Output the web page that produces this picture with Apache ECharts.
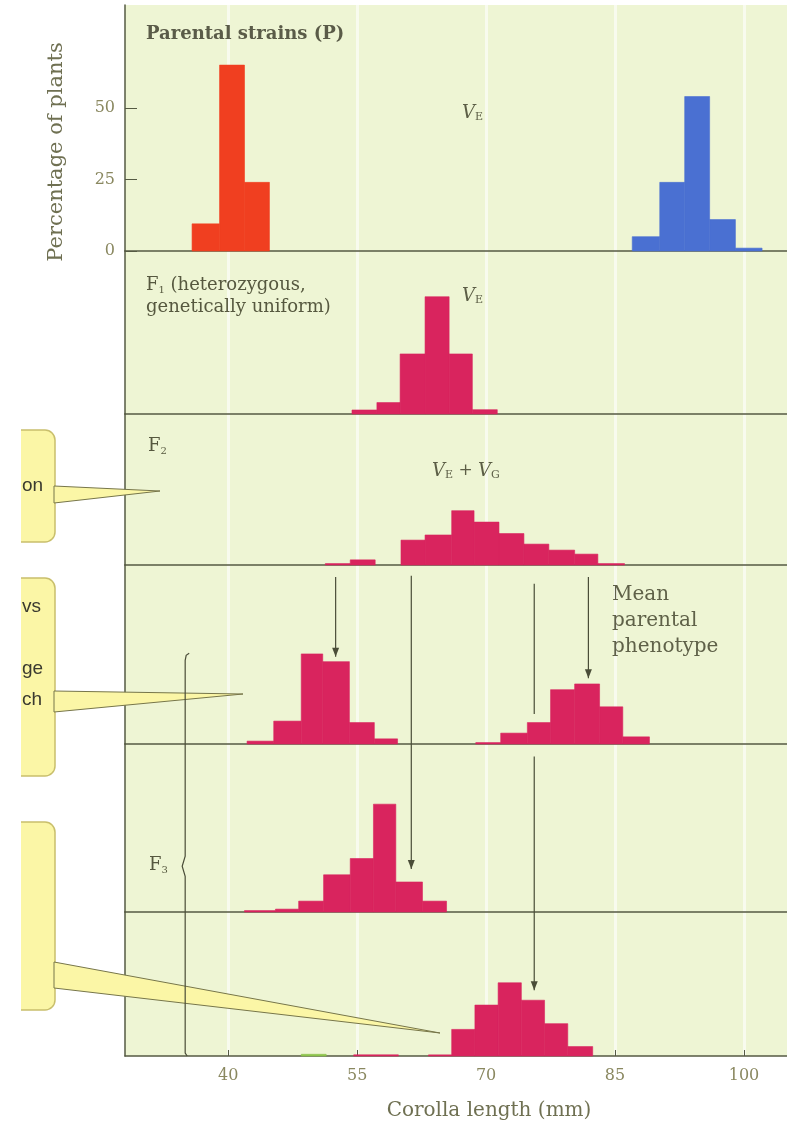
<!DOCTYPE html>
<html><head><meta charset="utf-8">
<script src="https://cdn.jsdelivr.net/npm/echarts@6/dist/echarts.min.js"></script>
<style>html,body{margin:0;padding:0;background:#fff}#c{width:787px;height:1133px}</style>
</head><body><div id="c"></div>
<script>
// ---- data (corolla length bins in mm, percentage of plants) ----
const xTicks = [40, 55, 70, 85, 100];
const yTicks = [0, 25, 50];
const parentRedEdges = [35.8, 39.0, 41.9, 44.8];
const parentRedPct = [9.5, 65, 24];
const parentBlueEdges = [87.0, 90.2, 93.1, 96.0, 99.0, 102.1];
const parentBluePct = [5, 24, 54, 11, 1];
const f1Edges = [54.4, 57.3, 60.0, 62.9, 65.7, 68.4, 71.3];
const f1Pct = [1.4, 4, 21, 41, 21, 1.5];
const f2Edges = [51.3, 54.2, 57.1, 60.1, 62.9, 66.0, 68.6, 71.5, 74.4, 77.3, 80.3, 83.0, 86.1];
const f2Pct = [0.5, 1.8, 0, 8.7, 10.5, 19, 15, 11, 7.3, 5.2, 3.8, 0.5];
const selShortEdges = [42.2, 45.3, 48.5, 51.0, 54.1, 57.0, 59.7];
const selShortPct = [1, 8, 31.5, 28.8, 7.5, 1.8];
const selLongEdges = [68.8, 71.7, 74.8, 77.5, 80.3, 83.2, 85.9, 89.0];
const selLongPct = [0.5, 3.8, 7.5, 19, 21, 13, 2.5];
const f3ShortEdges = [41.9, 45.5, 48.2, 51.1, 54.2, 56.9, 59.5, 62.6, 65.4];
const f3ShortPct = [0.5, 1, 3.8, 13, 18.7, 37.7, 10.5, 3.8];
const f3LongEdges = [54.6, 59.8, 63.3, 66.0, 68.7, 71.4, 74.1, 76.8, 79.5, 82.4];
const f3LongPct = [0.4, 0, 0.4, 9.3, 17.8, 25.6, 19.5, 11.3, 3.3];
const f3GreenEdges = [48.5, 51.4];
const f3GreenPct = [0.6];

// ---- layout ----
const X_MIN = 28, X_MAX = 105;
const PX_PER_PCT = 2.86;
const panels = [
  {top: 5, h: 246}, {top: 251, h: 163}, {top: 414, h: 151},
  {top: 565, h: 179}, {top: 744, h: 168}, {top: 912, h: 144}
];
const AX = '#555a43';
const SERIF = 'DejaVu Serif';
const TXT = '#56583f';
const LBL = '#8a8860';

const chart = echarts.init(document.getElementById('c'));

function bins(edges, pct) {
  return pct.map((p, i) => [edges[i], edges[i + 1], p]);
}
function renderBar(params, api) {
  const h = api.value(2);
  if (!h) return null;
  const a = api.coord([api.value(0), h]);
  const b = api.coord([api.value(1), 0]);
  const c = api.visual('color');
  return {type: 'rect', shape: {x: a[0], y: a[1], width: b[0] - a[0], height: b[1] - a[1]},
          style: {fill: c, stroke: c, lineWidth: 0.6}};
}
function histSeries(name, g, edges, pct, color) {
  return {name, type: 'custom', xAxisIndex: g, yAxisIndex: g, renderItem: renderBar,
          encode: {x: [0, 1], y: 2}, itemStyle: {color}, data: bins(edges, pct), silent: true, z: 3};
}

const RED = '#f03f20', BLUE = '#4a70d2', CRIM = '#d9245e', GREEN = '#8cc24a';

const option = {
  animation: false,
  backgroundColor: '#ffffff',
  grid: panels.map(p => ({left: 125, width: 665, top: p.top, height: p.h, show: true,
                          backgroundColor: '#eef5d4', borderWidth: 0, containLabel: false})),
  xAxis: panels.map((p, i) => ({
    type: 'value', gridIndex: i, min: X_MIN, max: X_MAX,
    axisLine: {show: true, onZero: false, lineStyle: {color: AX, width: 1.5}},
    axisTick: {show: i === 5, inside: true, length: 6, customValues: xTicks, lineStyle: {color: AX}},
    axisLabel: {show: i === 5, customValues: xTicks, margin: 12, color: LBL,
                fontFamily: SERIF, fontSize: 16},
    splitLine: {show: true, lineStyle: {color: 'rgba(255,255,255,0.6)', width: 3}}
  })),
  yAxis: panels.map((p, i) => ({
    type: 'value', gridIndex: i, min: 0, max: p.h / PX_PER_PCT,
    axisLine: {show: true, lineStyle: {color: AX, width: 1.5}},
    axisTick: {show: i === 0, inside: true, length: 12, customValues: yTicks, lineStyle: {color: AX}},
    axisLabel: {show: i === 0, customValues: yTicks, margin: 10, color: LBL,
                fontFamily: SERIF, fontSize: 16},
    splitLine: {show: false}
  })),
  series: [
    histSeries('P short', 0, parentRedEdges, parentRedPct, RED),
    histSeries('P long', 0, parentBlueEdges, parentBluePct, BLUE),
    histSeries('F1', 1, f1Edges, f1Pct, CRIM),
    histSeries('F2', 2, f2Edges, f2Pct, CRIM),
    histSeries('F2 selected short', 3, selShortEdges, selShortPct, CRIM),
    histSeries('F2 selected long', 3, selLongEdges, selLongPct, CRIM),
    histSeries('F3 short', 4, f3ShortEdges, f3ShortPct, CRIM),
    histSeries('F3 long', 5, f3LongEdges, f3LongPct, CRIM),
    histSeries('F3 trace', 5, f3GreenEdges, f3GreenPct, GREEN)
  ]
};
chart.setOption(option);

// ---- annotations ----
function px(g, v, pct) { return chart.convertToPixel({gridIndex: g}, [v, pct]); }
const G = [];
const LINE = '#4a4d38';
function vline(p0, p1, head) {
  G.push({type: 'line', shape: {x1: p0[0], y1: p0[1], x2: p1[0], y2: p1[1]},
          style: {stroke: LINE, lineWidth: 1.2}, z: 10});
  if (head) {
    G.push({type: 'polygon', shape: {points: [[p1[0] - 3.5, p1[1] - 9], [p1[0] + 3.5, p1[1] - 9], [p1[0], p1[1]]]},
            style: {fill: LINE}, z: 10});
  }
}
vline(px(3, 52.5, 58.4), px(3, 52.5, 30.5), true);
vline(px(3, 61.3, 58.8), px(4, 61.3, 15.0), true);
vline(px(3, 75.6, 56.0), px(3, 75.6, 10.5), false);
vline(px(4, 75.6, 54.4), px(5, 75.6, 23.0), true);
vline(px(3, 81.9, 58.4), px(3, 81.9, 23.0), true);
(function () {
  const top = px(3, 35.0, 31.0), bot = px(5, 35.0, 0);
  const bx = px(4, 35.0, 16)[1];
  G.push({type: 'polyline', shape: {points: [[top[0] + 4, top[1] - 2], [top[0] + 1, top[1]], [top[0], top[1] + 5],
          [top[0], bx - 10], [top[0] - 3, bx], [top[0], bx + 10], [bot[0], bot[1] - 3], [bot[0] + 2, bot[1]]]},
          style: {stroke: LINE, lineWidth: 1.2, fill: null}, z: 10});
})();

function txt(x, y, text, size, opts) {
  G.push({type: 'text', x, y, z: 12,
    style: Object.assign({text, fontFamily: SERIF, fontSize: size, fill: TXT, verticalAlign: 'top'}, opts || {})});
}
function rich(x, y, text, rich) {
  G.push({type: 'text', x, y, z: 12, style: {text, rich, verticalAlign: 'top', fill: TXT}});
}
const RT = {
  v: {fontFamily: SERIF, fontStyle: 'italic', fontSize: 18, fill: '#5c5e46'},
  s: {fontFamily: SERIF, fontSize: 11, fill: '#5c5e46', verticalAlign: 'bottom', padding: [9, 0, 0, 0]},
  n: {fontFamily: SERIF, fontSize: 17, fill: '#5c5e46'},
  f: {fontFamily: SERIF, fontSize: 18, fill: TXT},
  b: {fontFamily: SERIF, fontSize: 18, fill: TXT},
  fs: {fontFamily: SERIF, fontSize: 10, fill: TXT, verticalAlign: 'bottom', padding: [10, 0, 0, 0]}
};
txt(146, 25, 'Parental strains (P)', 18, {fontWeight: 'bold', fill: '#5a5b48'});
rich(462, 103, '{v|V}{s|E}', RT);
rich(146, 275, '{f|F}{fs|1}{b| (heterozygous,}', RT);
txt(146, 298, 'genetically uniform)', 18);
rich(462, 286, '{v|V}{s|E}', RT);
rich(148, 436, '{f|F}{fs|2}', RT);
rich(432, 461, '{v|V}{s|E}{n| + }{v|V}{s|G}', RT);
txt(612, 582, 'Mean\nparental\nphenotype', 20, {lineHeight: 26, fill: '#5f6148'});
rich(149, 855, '{f|F}{fs|3}', RT);
G.push({type: 'text', x: 57, y: 152, rotation: Math.PI / 2, z: 12,
  style: {text: 'Percentage of plants', fontFamily: SERIF, fontSize: 21, fill: '#6f7052',
          align: 'center', verticalAlign: 'middle'}});
txt(489, 1101, 'Corolla length (mm)', 20, {align: 'center', fill: '#6f7052'});

// callout boxes (cropped at the left edge of the figure)
const YEL = '#fbf6a6', YB = '#c9bf6c';
function box(y0, y1) {
  G.push({type: 'rect', shape: {x: 14, y: y0, width: 41, height: y1 - y0, r: [0, 10, 10, 0]},
          style: {fill: YEL, stroke: YB, lineWidth: 1.5}, z: 5});
}
function wedge(pts) {
  G.push({type: 'polygon', shape: {points: pts}, style: {fill: YEL, stroke: '#77764a', lineWidth: 1}, z: 6});
}
box(430, 542); box(578, 776); box(822, 1010);
G.push({type: 'rect', shape: {x: 0, y: 420, width: 21, height: 600}, style: {fill: '#ffffff'}, z: 7});
wedge([[54, 486], [160, 491], [54, 503]]);
wedge([[54, 691], [243, 694], [54, 712]]);
wedge([[54, 962], [440, 1033], [54, 988]]);
const SANS = 'Liberation Sans';
txt(22, 476, 'on', 19, {fontFamily: SANS, fill: '#3a3a30'});
txt(22, 597, 'vs', 19, {fontFamily: SANS, fill: '#3a3a30'});
txt(22, 659, 'ge', 19, {fontFamily: SANS, fill: '#3a3a30'});
txt(22, 690, 'ch', 19, {fontFamily: SANS, fill: '#3a3a30'});

chart.setOption({graphic: {elements: G}});
</script>
</body></html>
